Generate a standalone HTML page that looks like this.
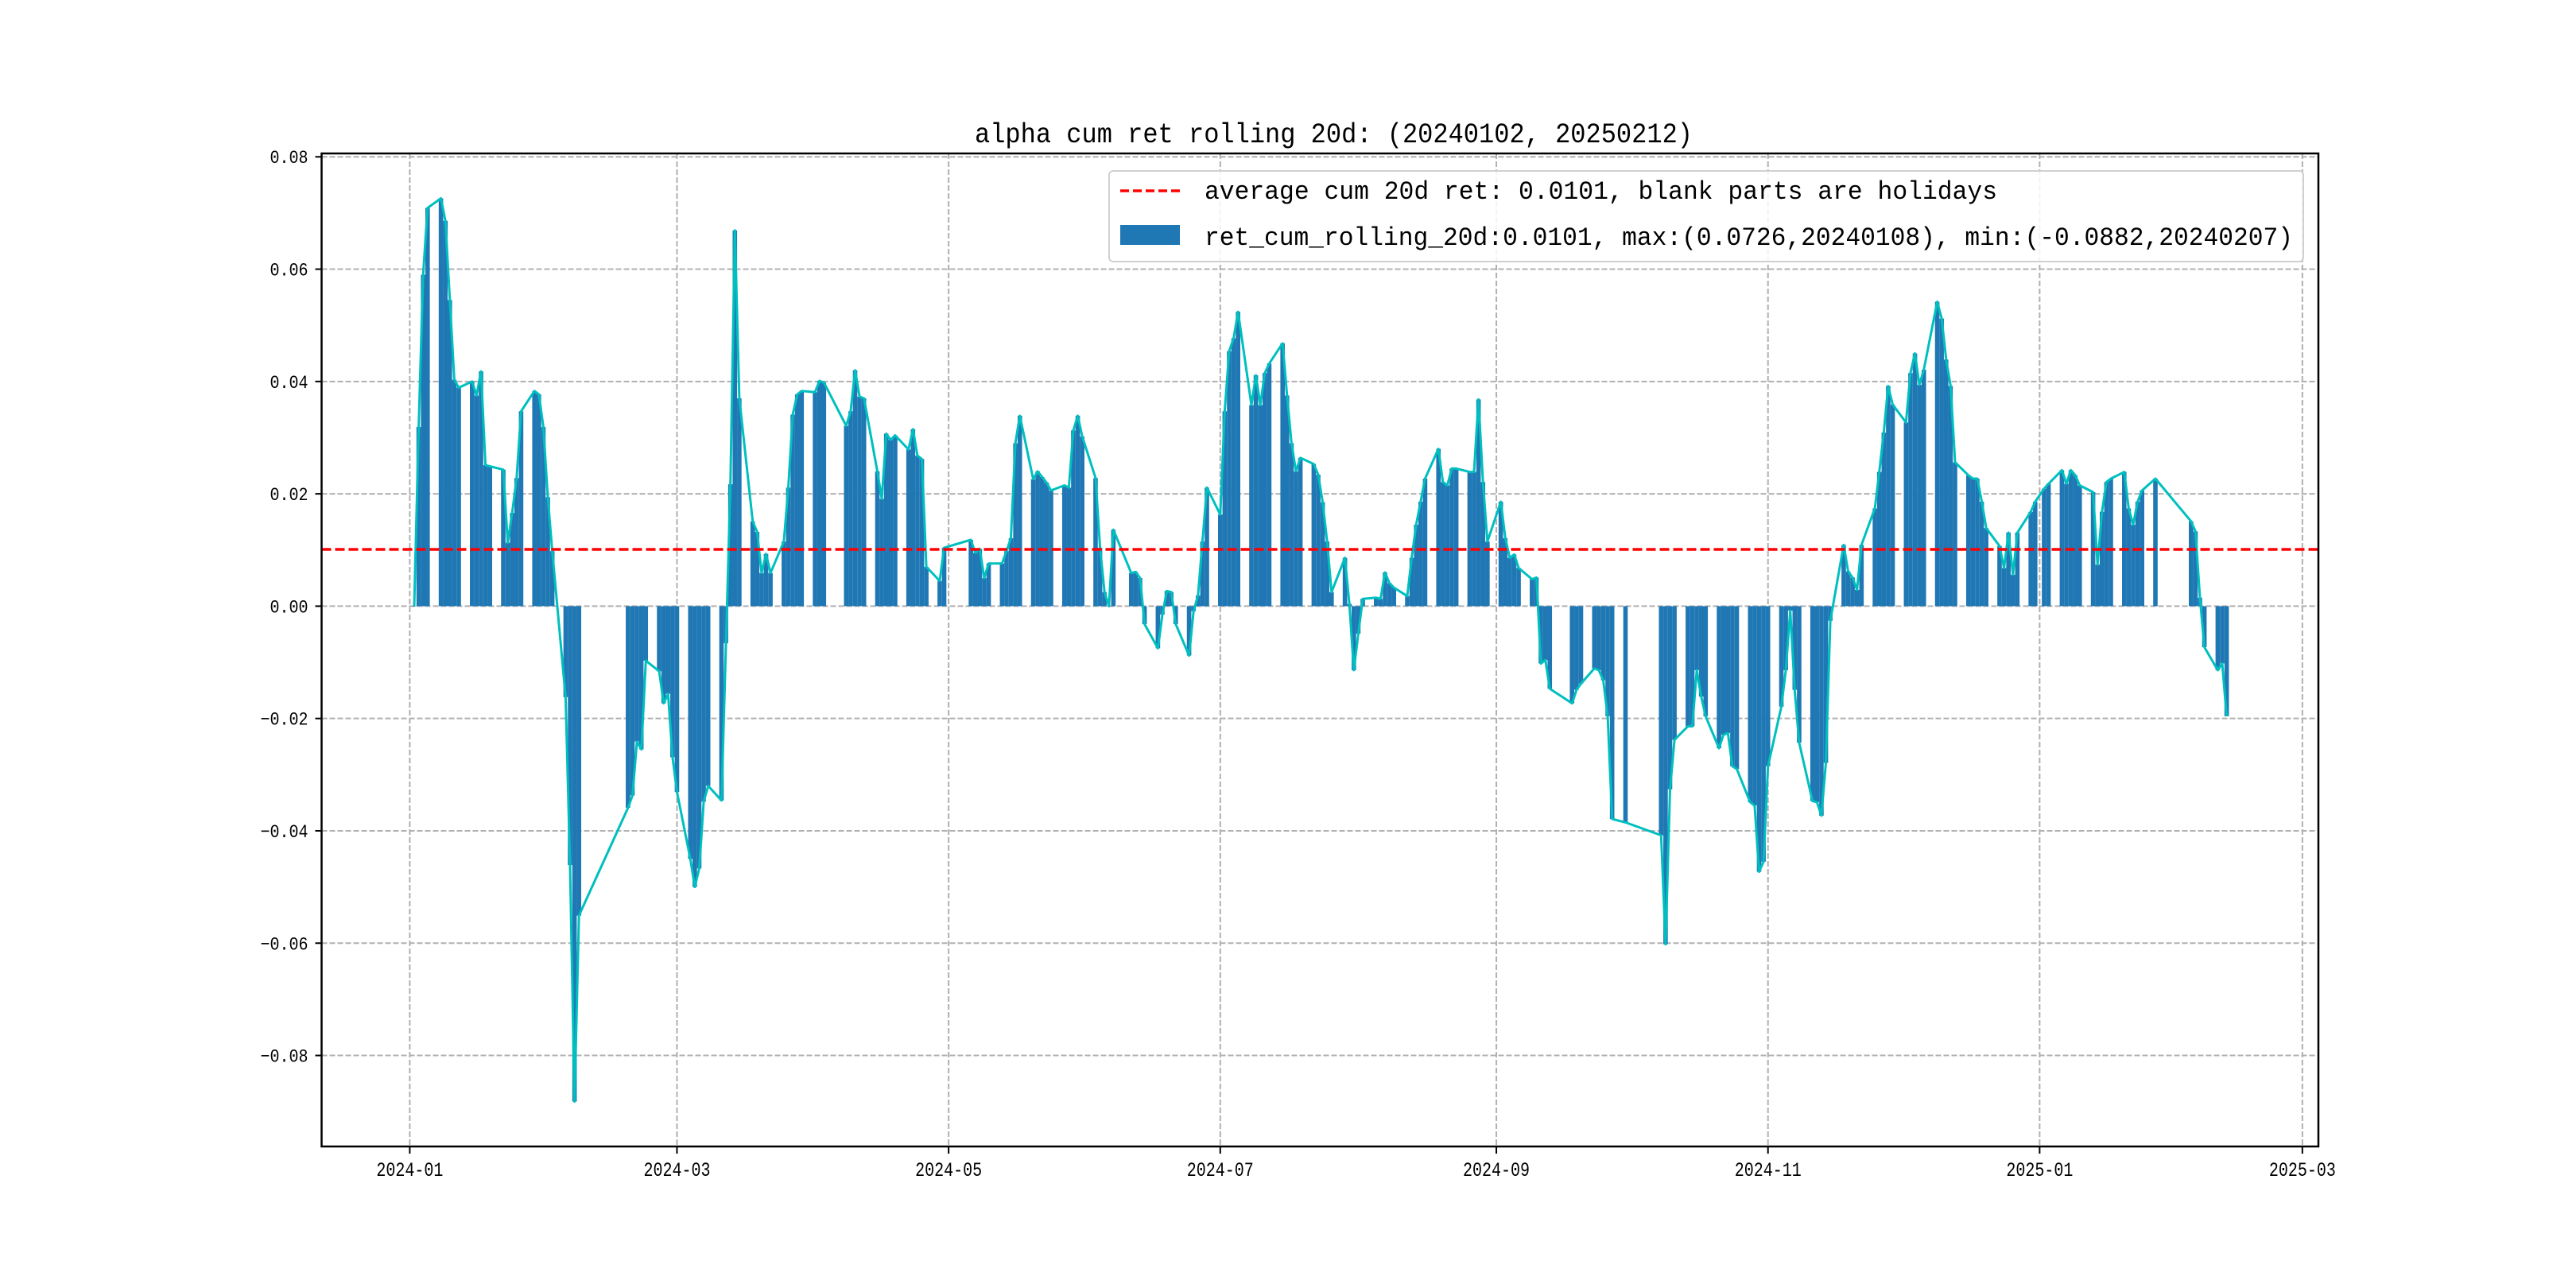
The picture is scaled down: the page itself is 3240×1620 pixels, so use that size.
<!DOCTYPE html>
<html><head><meta charset="utf-8"><style>
html,body{margin:0;padding:0;background:#fff;}
svg{display:block;}
text{font-family:"Liberation Mono","Noto Sans CJK SC",monospace;}
</style></head><body>
<svg id="chart" width="3240" height="1620" viewBox="0 0 3240 1620" xmlns="http://www.w3.org/2000/svg">
<rect x="0" y="0" width="3240" height="1620" fill="#fff"/>
<text x="1226" y="179" font-size="35" textLength="903" lengthAdjust="spacingAndGlyphs">alpha cum ret rolling 20d: (20240102, 20250212)</text>
<g id="grid"></g>
<g id="bars"></g>
<g id="lineg"></g>
<g id="avg"></g>
<g id="axes"></g>
<g>
<rect x="1395" y="215" width="1502" height="114" rx="5" fill="#fff" fill-opacity="0.85" stroke="#d0d0d0" stroke-width="2"/>
<line x1="1409" y1="240" x2="1484" y2="240" stroke="#ff0000" stroke-width="3.5" stroke-dasharray="11,5"/>
<text x="1515" y="250" font-size="32" textLength="997" lengthAdjust="spacingAndGlyphs">average cum 20d ret: 0.0101, blank parts are holidays</text>
<rect x="1409" y="283" width="75" height="25" fill="#1f77b4"/>
<text x="1515" y="308" font-size="32" textLength="1369" lengthAdjust="spacingAndGlyphs">ret_cum_rolling_20d:0.0101, max:(0.0726,20240108), min:(-0.0882,20240207)</text>
</g>
</svg>
<script>
// days since 2024-01-01 for each trading day
const tradeDays = [1,2,3,4,7,8,9,10,11,14,15,16,17,18,21,22,23,24,25,28,29,30,31,32,35,36,37,38,
49,50,51,52,53,56,57,58,59,60,63,64,65,66,67,70,71,72,73,74,77,78,79,80,81,84,85,86,87,88,91,92,93,
98,99,100,101,102,105,106,107,108,109,112,113,114,115,116,119,120,126,127,128,129,130,133,134,135,136,137,
140,141,142,143,144,147,148,149,150,151,154,155,156,157,158,162,163,164,165,168,169,170,171,172,
175,176,177,178,179,182,183,184,185,186,189,190,191,192,193,196,197,198,199,200,203,204,205,206,207,
210,211,212,213,214,217,218,219,220,221,224,225,226,227,228,231,232,233,234,235,238,239,240,241,242,
245,246,247,248,249,252,253,254,255,256,261,262,263,266,267,268,269,270,273,
281,282,283,284,287,288,289,290,291,294,295,296,297,298,301,302,303,304,305,308,309,310,311,312,
315,316,317,318,319,322,323,324,325,326,329,330,331,332,333,336,337,338,339,340,343,344,345,346,347,
350,351,352,353,354,357,358,359,360,361,364,365,367,368,371,372,373,374,375,378,379,380,381,382,
385,386,387,388,389,392,400,401,402,403,406,407,408];
const retValues = [0.0000,0.0319,0.0590,0.0709,0.0726,0.0686,0.0545,0.0403,0.0389,0.0400,0.0375,0.0418,0.0251,0.0249,0.0243,0.0113,0.0166,0.0228,0.0347,0.0383,0.0377,0.0319,0.0194,0.0098,-0.0162,-0.0461,-0.0882,-0.0551,
-0.0359,-0.0337,-0.0241,-0.0255,-0.0097,-0.0116,-0.0173,-0.0156,-0.0269,-0.0331,-0.0450,-0.0500,-0.0467,-0.0348,-0.0320,-0.0346,-0.0066,0.0217,0.0669,0.0370,0.0151,0.0132,0.0059,0.0093,0.0059,0.0115,0.0211,0.0341,0.0377,0.0383,0.0381,0.0401,0.0398,
0.0321,0.0347,0.0420,0.0373,0.0370,0.0240,0.0191,0.0307,0.0296,0.0304,0.0279,0.0315,0.0268,0.0262,0.0070,0.0045,0.0104,0.0118,0.0095,0.0102,0.0050,0.0076,0.0076,0.0098,0.0121,0.0290,0.0339,
0.0226,0.0240,0.0230,0.0220,0.0206,0.0215,0.0211,0.0313,0.0339,0.0302,0.0228,0.0104,0.0025,0.0000,0.0136,0.0059,0.0061,0.0050,-0.0032,-0.0075,-0.0015,0.0027,0.0025,-0.0032,
-0.0088,-0.0009,0.0019,0.0115,0.0211,0.0163,0.0347,0.0454,0.0477,0.0524,0.0358,0.0411,0.0358,0.0415,0.0432,0.0468,0.0375,0.0290,0.0240,0.0264,0.0253,0.0234,0.0185,0.0115,0.0025,
0.0086,0.0004,-0.0114,-0.0049,0.0013,0.0015,0.0013,0.0060,0.0041,0.0033,0.0018,0.0086,0.0145,0.0186,0.0227,0.0280,0.0221,0.0215,0.0245,0.0245,0.0239,0.0239,0.0368,0.0221,0.0115,
0.0186,0.0121,0.0086,0.0092,0.0068,0.0048,0.0051,-0.0102,-0.0096,-0.0147,-0.0173,-0.0149,-0.0138,-0.0111,-0.0114,-0.0132,-0.0196,-0.0379,-0.0385,
-0.0408,-0.0602,-0.0326,-0.0238,-0.0214,-0.0214,-0.0114,-0.0161,-0.0196,-0.0253,-0.0229,-0.0226,-0.0285,-0.0290,-0.0349,-0.0355,-0.0473,-0.0455,-0.0285,-0.0179,-0.0114,-0.0008,-0.0149,-0.0243,
-0.0347,-0.0349,-0.0373,-0.0279,-0.0026,0.0109,0.0062,0.0051,0.0029,0.0109,0.0174,0.0239,0.0309,0.0392,0.0359,0.0327,0.0415,0.0450,0.0394,0.0421,0.0542,0.0512,0.0439,0.0392,0.0256,
0.0233,0.0227,0.0227,0.0186,0.0139,0.0107,0.0068,0.0131,0.0056,0.0131,0.0168,0.0186,0.0209,0.0218,0.0242,0.0218,0.0242,0.0233,0.0215,0.0203,0.0074,0.0168,0.0221,0.0227,
0.0239,0.0174,0.0145,0.0186,0.0206,0.0227,0.0151,0.0133,0.0015,-0.0073,-0.0114,-0.0102,-0.0196];
const avgValue = 0.0101;
const yTickValues = [0.08,0.06,0.04,0.02,0.00,-0.02,-0.04,-0.06,-0.08];
const yTickLabels = ["0.08","0.06","0.04","0.02","0.00","\u22120.02","\u22120.04","\u22120.06","\u22120.08"];
const xTickDays = [0,60,121,182,244,305,366,425];
const xTickLabels = ["2024-01","2024-03","2024-05","2024-07","2024-09","2024-11","2025-01","2025-03"];

const L=404.5,R=2916,T=193,B=1442;
const xMin=-19.8,xMax=428.6,yMin=-0.0962,yMax=0.0806;
const X=d=>L+(d-xMin)/(xMax-xMin)*(R-L);
const Y=v=>B-(v-yMin)/(yMax-yMin)*(B-T);
const NS="http://www.w3.org/2000/svg";
function mk(tag,attrs,parent){const e=document.createElementNS(NS,tag);for(const k in attrs)e.setAttribute(k,attrs[k]);parent.appendChild(e);return e;}
const grid=document.getElementById('grid'),axes=document.getElementById('axes');
yTickValues.forEach((v,i)=>{
  const y=Y(v);
  const g=mk('line',{x1:L,x2:R,y1:y,y2:y,stroke:'#b0b0b0','stroke-width':2,'stroke-dasharray':'7,3'},grid);
  
  
  const t=mk('line',{x1:L-8,x2:L,y1:y,y2:y,stroke:'#000','stroke-width':2},axes);
  
  
  const lab=yTickLabels[i];
  const tx=mk('text',{x:L-17,y:y+8,'font-size':23,'text-anchor':'end',textLength:lab.length*12,lengthAdjust:'spacingAndGlyphs'},axes);
  tx.textContent=lab;
  
  
});
xTickDays.forEach((d,i)=>{
  const x=X(d);
  const g=mk('line',{x1:x,x2:x,y1:T,y2:B,stroke:'#b0b0b0','stroke-width':2,'stroke-dasharray':'7,3'},grid);
  
  
  const t=mk('line',{x1:x,x2:x,y1:B,y2:B+9,stroke:'#000','stroke-width':2},axes);
  
  
  const tx=mk('text',{x:x,y:B+37,'font-size':25,'text-anchor':'middle',textLength:84,lengthAdjust:'spacingAndGlyphs'},axes);
  tx.textContent=xTickLabels[i];
  
  
});
const bars=document.getElementById('bars');
const dayW=(R-L)/(xMax-xMin);
tradeDays.forEach((d,i)=>{
  const v=retValues[i];
  const y0=Y(0),y1=Y(v);
  const r=mk('rect',{x:X(d-0.5),y:Math.min(y0,y1),width:dayW,height:Math.max(Math.abs(y1-y0),0.5),fill:'#1f77b4'},bars);
  
  
});
const pts=tradeDays.map((d,i)=>X(d).toFixed(1)+','+Y(retValues[i]).toFixed(1)).join(' ');
const pl=mk('polyline',{points:pts,fill:'none',stroke:'#00bfbf','stroke-width':3,'stroke-linejoin':'round'},document.getElementById('lineg'));


const al=mk('line',{x1:L,x2:R,y1:Y(avgValue),y2:Y(avgValue),stroke:'#ff0000','stroke-width':3.5,'stroke-dasharray':'12,5'},document.getElementById('avg'));


const fr=mk('rect',{x:L,y:T,width:R-L,height:B-T,fill:'none',stroke:'#000','stroke-width':2.5},axes);


</script>
</body></html>
